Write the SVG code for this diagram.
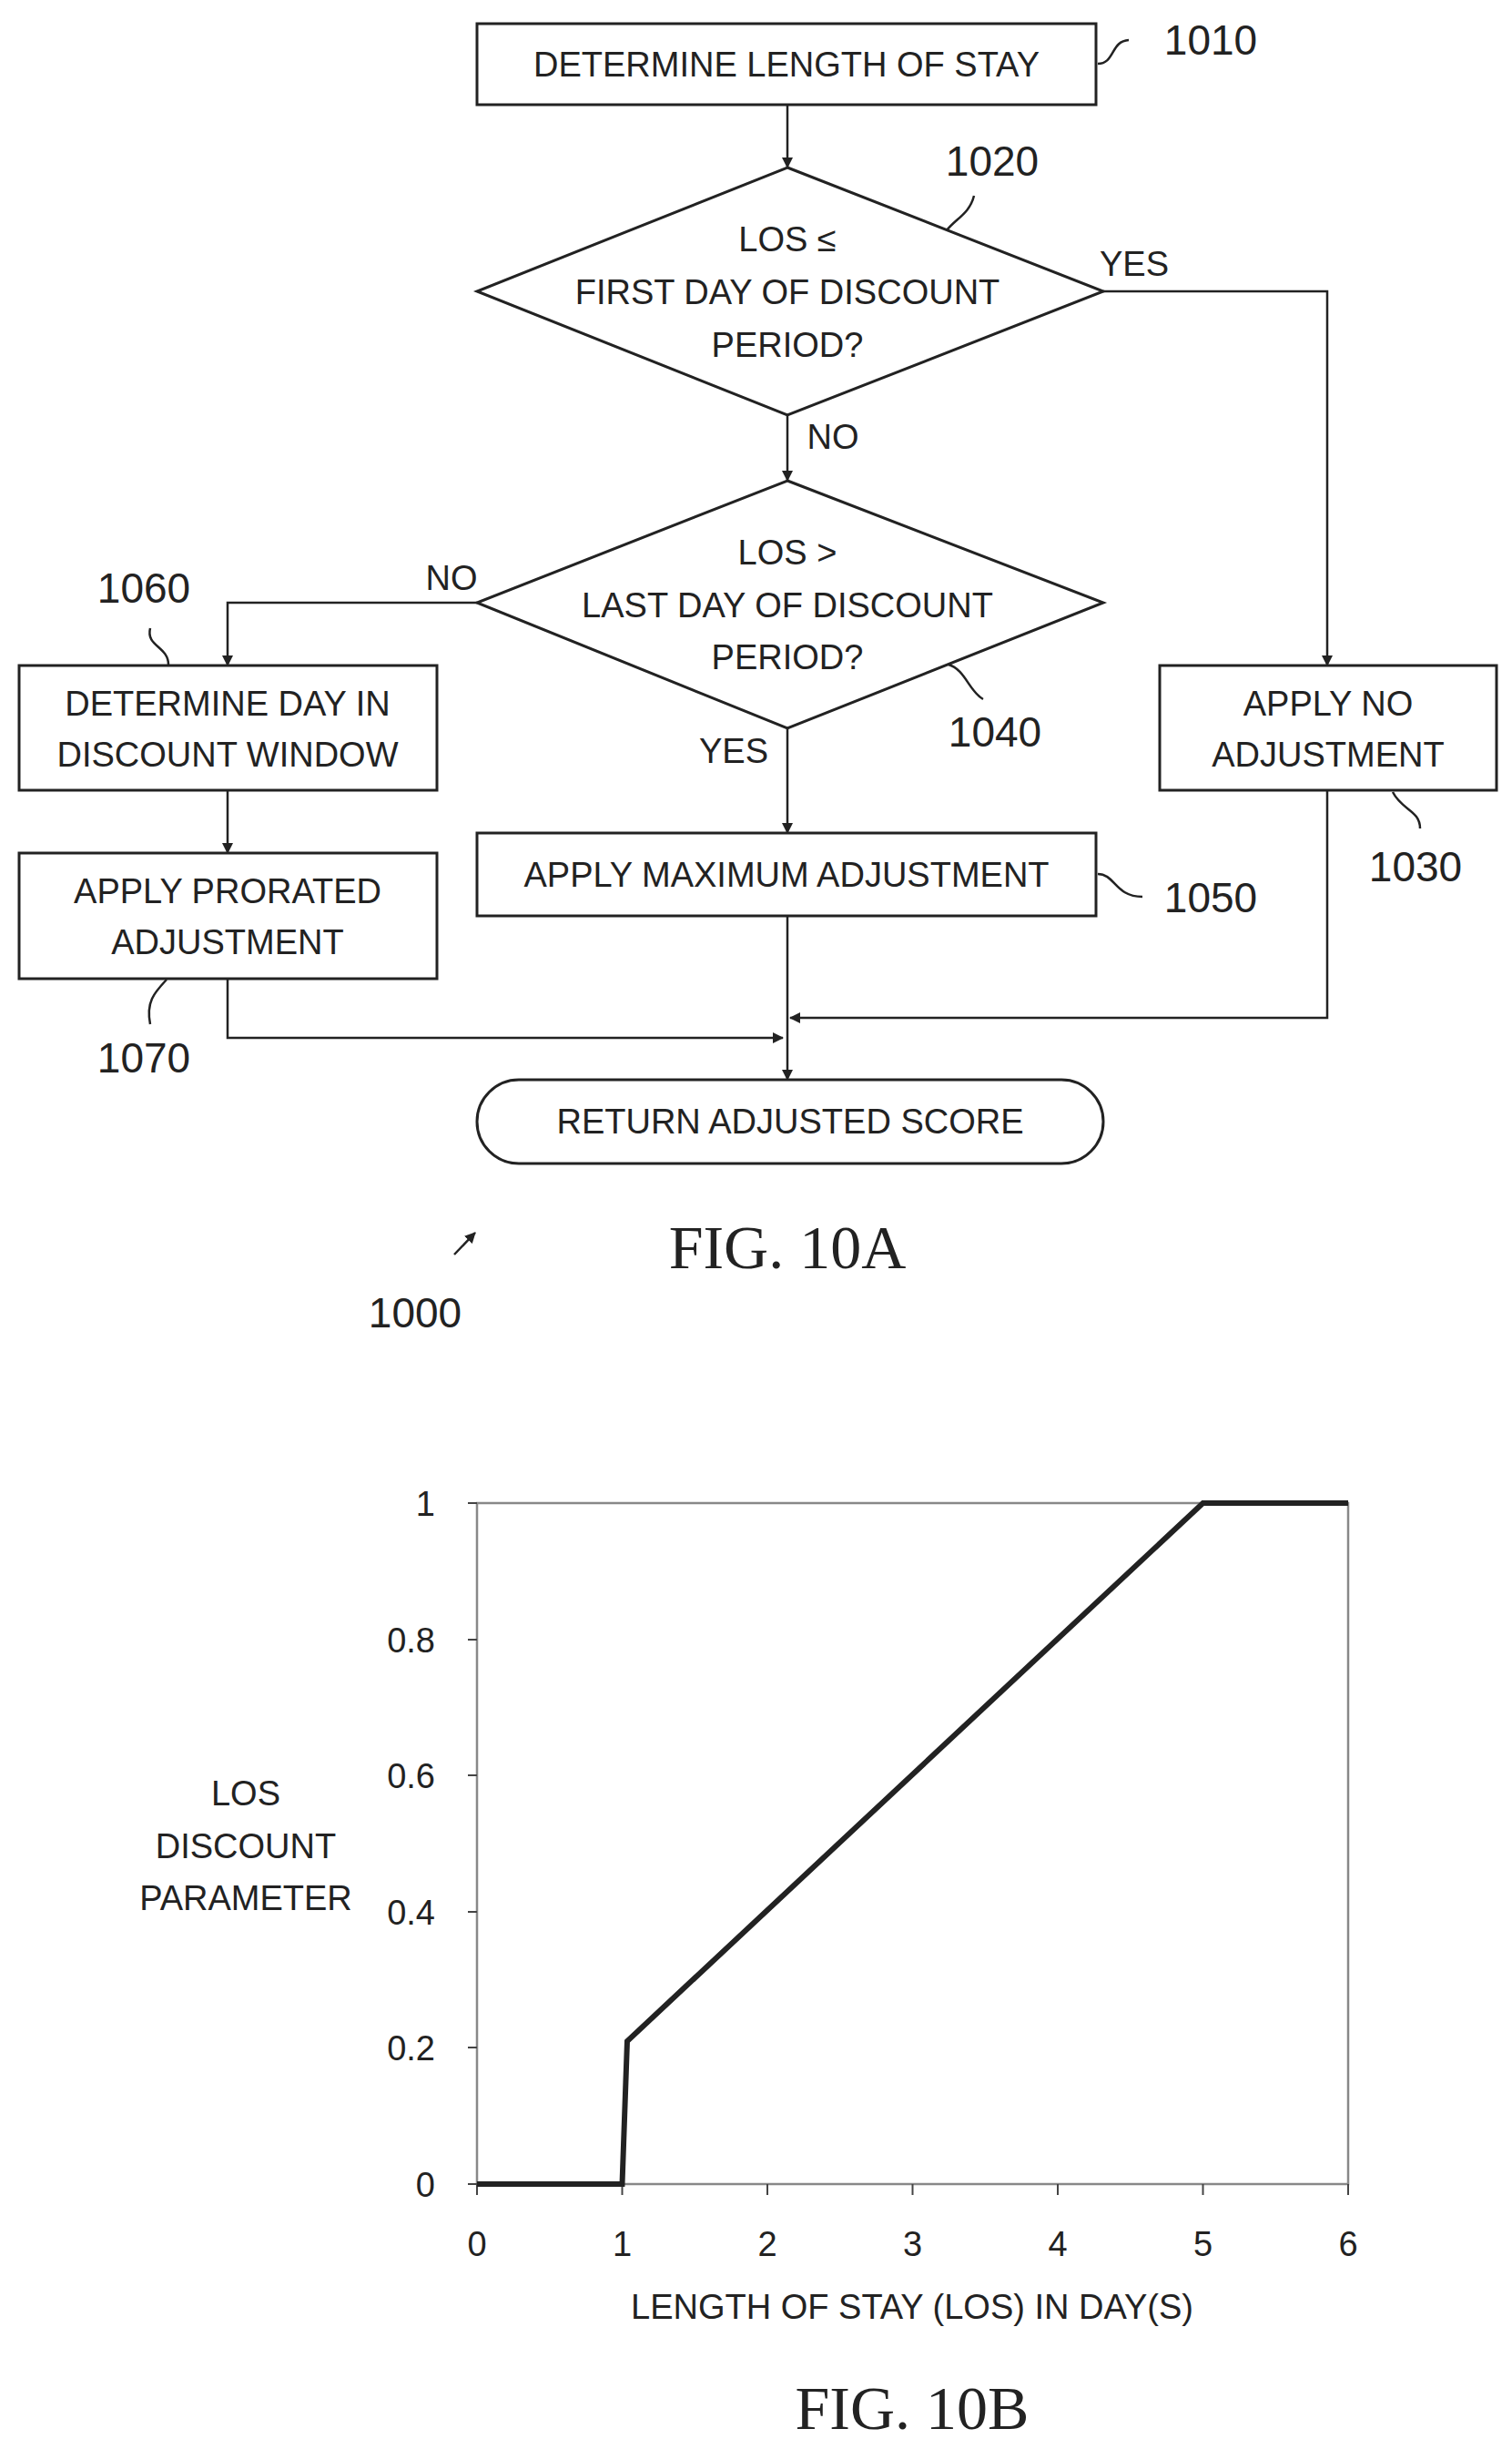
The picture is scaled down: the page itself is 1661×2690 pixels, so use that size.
<svg xmlns="http://www.w3.org/2000/svg" width="1661" height="2690" viewBox="0 0 1661 2690">
<style>
.b{fill:#fff;stroke:#222;stroke-width:3}
.c{fill:none;stroke:#222;stroke-width:2.5}
.t{font-family:"Liberation Sans",Arial,sans-serif;font-size:38px;fill:#222;text-anchor:middle}
.n{font-family:"Liberation Sans",Arial,sans-serif;font-size:46px;fill:#222;text-anchor:middle}
.f{font-family:"Liberation Serif","Times New Roman",serif;font-size:68px;fill:#222;text-anchor:middle}
</style>
<defs><marker id="a" markerWidth="12" markerHeight="12" refX="11" refY="6" orient="auto" markerUnits="userSpaceOnUse"><path d="M0,0 L12,6 L0,12 Z" fill="#222"/></marker></defs>
<rect width="1661" height="2690" fill="#fff"/>
<g id="connectors">
<path class="c" d="M865,115 V184" marker-end="url(#a)"/>
<path class="c" d="M865,456 V528" marker-end="url(#a)"/>
<path class="c" d="M1212,320 H1458 V731" marker-end="url(#a)"/>
<path class="c" d="M524,662 H250 V731" marker-end="url(#a)"/>
<path class="c" d="M865,800 V915" marker-end="url(#a)"/>
<path class="c" d="M250,868 V937" marker-end="url(#a)"/>
<path class="c" d="M250,1075 V1140 H860" marker-end="url(#a)"/>
<path class="c" d="M1458,868 V1118 H868" marker-end="url(#a)"/>
<path class="c" d="M865,1006 V1186" marker-end="url(#a)"/>
<text class="t" x="1246" y="303">YES</text>
<text class="t" x="915" y="493">NO</text>
<text class="t" x="496" y="648">NO</text>
<text class="t" x="806" y="838">YES</text>
</g>
<g id="n1010"><rect class="b" x="524" y="26" width="680" height="89"/><text class="t" x="864" y="84">DETERMINE LENGTH OF STAY</text>
<path class="c" d="M1206,70 C1225,70 1220,45 1240,44"/><text class="n" x="1330" y="60">1010</text></g>
<g id="n1020"><polygon class="b" points="865,184 1212,320 865,456 524,320"/>
<text class="t" x="865" y="276">LOS ≤</text><text class="t" x="865" y="334">FIRST DAY OF DISCOUNT</text><text class="t" x="865" y="392">PERIOD?</text>
<path class="c" d="M1040,253 C1050,240 1065,235 1070,215"/><text class="n" x="1090" y="193">1020</text></g>
<g id="n1040"><polygon class="b" points="865,528 1212,662 865,800 524,662"/>
<text class="t" x="865" y="620">LOS &gt;</text><text class="t" x="865" y="678">LAST DAY OF DISCOUNT</text><text class="t" x="865" y="735">PERIOD?</text>
<path class="c" d="M1042,730 C1060,735 1065,760 1080,768"/><text class="n" x="1093" y="820">1040</text></g>
<g id="n1060"><rect class="b" x="21" y="731" width="459" height="137"/>
<text class="t" x="250" y="786">DETERMINE DAY IN</text><text class="t" x="250" y="842">DISCOUNT WINDOW</text>
<path class="c" d="M185,730 C185,710 160,710 165,690"/><text class="n" x="158" y="662">1060</text></g>
<g id="n1070"><rect class="b" x="21" y="937" width="459" height="138"/>
<text class="t" x="250" y="992">APPLY PRORATED</text><text class="t" x="250" y="1048">ADJUSTMENT</text>
<path class="c" d="M183,1076 C170,1090 160,1100 165,1125"/><text class="n" x="158" y="1178">1070</text></g>
<g id="n1050"><rect class="b" x="524" y="915" width="680" height="91"/><text class="t" x="864" y="974">APPLY MAXIMUM ADJUSTMENT</text>
<path class="c" d="M1206,960 C1225,960 1225,985 1255,985"/><text class="n" x="1330" y="1002">1050</text></g>
<g id="n1030"><rect class="b" x="1274" y="731" width="370" height="137"/>
<text class="t" x="1459" y="786">APPLY NO</text><text class="t" x="1459" y="842">ADJUSTMENT</text>
<path class="c" d="M1530,870 C1540,890 1560,890 1560,910"/><text class="n" x="1555" y="968">1030</text></g>
<g id="end"><rect class="b" x="524" y="1186" width="688" height="92" rx="46"/><text class="t" x="868" y="1245">RETURN ADJUSTED SCORE</text></g>
<text class="f" x="865" y="1393">FIG. 10A</text>
<g id="ref1000"><path class="c" d="M499,1378 L522,1354" marker-end="url(#a)"/><text class="n" x="456" y="1458">1000</text></g>
<g id="chart">
<rect x="524" y="1651" width="957" height="748" fill="none" stroke="#888" stroke-width="2.5"/>
<g stroke="#444" stroke-width="2">
<line x1="514" y1="2399" x2="524" y2="2399"/><line x1="514" y1="2249" x2="524" y2="2249"/><line x1="514" y1="2100" x2="524" y2="2100"/><line x1="514" y1="1950" x2="524" y2="1950"/><line x1="514" y1="1801" x2="524" y2="1801"/><line x1="514" y1="1651" x2="524" y2="1651"/>
<line x1="524" y1="2399" x2="524" y2="2411"/><line x1="683.5" y1="2399" x2="683.5" y2="2411"/><line x1="843" y1="2399" x2="843" y2="2411"/><line x1="1002.5" y1="2399" x2="1002.5" y2="2411"/><line x1="1162" y1="2399" x2="1162" y2="2411"/><line x1="1321.5" y1="2399" x2="1321.5" y2="2411"/><line x1="1481" y1="2399" x2="1481" y2="2411"/>
</g>
<polyline points="524,2399 683.5,2399 689,2242 1321.5,1651 1481,1651" fill="none" stroke="#222" stroke-width="6"/>
<g class="t" style="text-anchor:end"><text x="478" y="2413">0</text><text x="478" y="2263">0.2</text><text x="478" y="2114">0.4</text><text x="478" y="1964">0.6</text><text x="478" y="1815">0.8</text><text x="478" y="1665">1</text></g>
<g class="t"><text x="524" y="2478">0</text><text x="683.5" y="2478">1</text><text x="843" y="2478">2</text><text x="1002.5" y="2478">3</text><text x="1162" y="2478">4</text><text x="1321.5" y="2478">5</text><text x="1481" y="2478">6</text></g>
<text class="t" x="1002" y="2547">LENGTH OF STAY (LOS) IN DAY(S)</text>
<text class="t" x="270" y="1983">LOS</text><text class="t" x="270" y="2041">DISCOUNT</text><text class="t" x="270" y="2098">PARAMETER</text>
</g>
<text class="f" x="1002" y="2668">FIG. 10B</text>
</svg>
